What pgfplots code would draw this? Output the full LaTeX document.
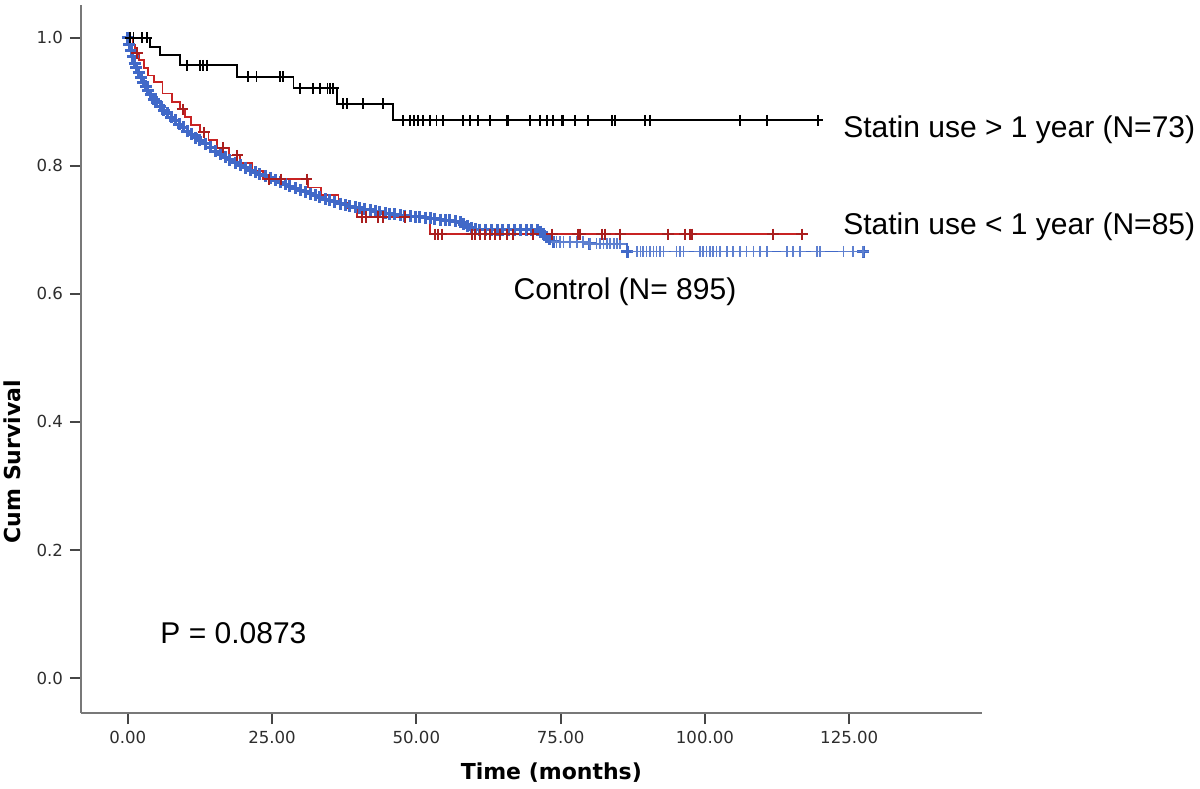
\documentclass[border=0pt]{standalone}
\usepackage{fontspec}
\setmainfont{Liberation Sans}
\newfontfamily\dejavu{DejaVu Sans}
\usepackage{pgfplots}
\pgfplotsset{compat=1.18}
\usepackage{pgfplotstable}

\definecolor{kmred}{RGB}{200,35,35}
\definecolor{kmblue}{RGB}{65,105,200}
\definecolor{spine}{RGB}{120,120,120}
\definecolor{tickc}{RGB}{70,70,70}
\definecolor{labc}{RGB}{45,45,45}

% Statin use > 1 year (N=73): step function
\pgfplotstableread{
x y
0 1.000
3.86 0.986
5.6 0.973
9.06 0.957
18.9 0.939
28.7 0.921
36.2 0.897
46.0 0.871
119.6 0.871
}\blackline
\pgfplotstableread{
x y
0.4 1.0
1.0 1.0
2.5 1.0
3.3 1.0
10.2 0.957
12.5 0.957
13.0 0.957
13.7 0.957
20.8 0.939
22.3 0.939
26.4 0.939
26.9 0.939
29.9 0.921
32.1 0.921
33.3 0.921
34.6 0.921
35.0 0.921
35.6 0.921
37.3 0.897
38.0 0.897
40.8 0.897
44.2 0.897
47.7 0.871
48.9 0.871
49.6 0.871
50.3 0.871
51.2 0.871
52.4 0.871
53.5 0.871
54.6 0.871
58.1 0.871
59.3 0.871
60.7 0.871
62.8 0.871
65.7 0.871
65.9 0.871
69.7 0.871
71.4 0.871
72.6 0.871
73.7 0.871
75.2 0.871
75.4 0.871
77.5 0.871
79.7 0.871
83.9 0.871
84.4 0.871
89.6 0.871
90.5 0.871
106.1 0.871
110.7 0.871
119.6 0.871
}\blackcens

% Statin use < 1 year (N=85)
\pgfplotstableread{
x y
0 1.000
0.8 0.988
1.3 0.976
2.0 0.965
2.8 0.953
3.5 0.941
4.5 0.931
6.0 0.913
7.7 0.900
9.0 0.888
9.9 0.876
11.0 0.864
12.5 0.852
14.0 0.840
15.5 0.828
17.5 0.816
19.5 0.804
21.5 0.792
23.4 0.779
31.2 0.766
33.5 0.754
36.5 0.742
38.0 0.733
39.7 0.720
52.4 0.693
116.8 0.693
}\redline
\pgfplotstableread{
x y
1.6 0.976
9.5 0.888
13.2 0.852
16.5 0.828
19.0 0.816
24.5 0.779
26.5 0.779
31.0 0.779
40.5 0.720
41.3 0.720
43.3 0.720
44.2 0.720
48.0 0.720
53.2 0.693
53.8 0.693
54.4 0.693
59.6 0.693
60.2 0.693
61.0 0.693
61.9 0.693
62.8 0.693
63.6 0.693
64.5 0.693
65.7 0.693
66.8 0.693
70.2 0.693
73.5 0.693
78.0 0.693
78.4 0.693
82.1 0.693
82.7 0.693
85.3 0.693
93.6 0.693
96.5 0.693
97.4 0.693
97.7 0.693
111.8 0.693
116.8 0.693
}\redcens

% Control (N=895)
\pgfplotstableread{
x y
0 1.000
0.3 0.990
0.6 0.980
0.9 0.970
1.2 0.960
1.5 0.953
1.9 0.945
2.3 0.937
2.7 0.930
3.1 0.924
3.5 0.918
4.0 0.911
4.5 0.904
5.0 0.899
5.6 0.893
6.2 0.887
6.8 0.882
7.5 0.876
8.2 0.871
8.9 0.865
9.6 0.860
10.3 0.854
11.1 0.849
11.8 0.844
12.5 0.840
13.4 0.834
14.3 0.829
15.2 0.823
16.0 0.818
16.9 0.813
17.7 0.809
18.6 0.805
19.5 0.801
20.4 0.797
21.2 0.793
22.1 0.790
22.9 0.787
23.8 0.784
24.7 0.781
25.6 0.777
26.4 0.774
27.3 0.771
28.1 0.768
29.0 0.765
29.9 0.762
30.8 0.759
31.6 0.756
32.5 0.754
33.3 0.751
34.2 0.748
35.0 0.746
35.9 0.744
36.8 0.741
37.7 0.739
38.5 0.737
39.4 0.735
40.2 0.734
41.1 0.732
42.0 0.731
42.9 0.729
43.7 0.728
44.6 0.726
45.4 0.725
46.3 0.724
47.2 0.723
48.0 0.722
48.9 0.721
49.8 0.720
50.6 0.720
51.5 0.719
52.4 0.718
53.2 0.717
54.1 0.716
55.0 0.715
55.8 0.715
56.7 0.713
57.6 0.712
58.2 0.709
58.8 0.706
59.5 0.703
60.2 0.701
61.0 0.700
62.0 0.700
63.0 0.700
64.0 0.700
65.0 0.700
66.0 0.700
67.0 0.700
68.0 0.700
69.0 0.700
70.0 0.700
71.0 0.700
71.5 0.697
72.0 0.693
72.5 0.689
73.0 0.685
73.7 0.681
80.0 0.678
86.5 0.666
127.4 0.666
}\blueline
\pgfplotstableread{
x y
74.3 0.681
74.9 0.681
75.5 0.681
76.6 0.681
77.8 0.681
78.9 0.681
80.1 0.678
81.2 0.678
81.8 0.678
82.4 0.678
83.0 0.678
83.6 0.678
84.2 0.678
84.8 0.678
85.3 0.678
88.2 0.666
88.8 0.666
89.3 0.666
89.9 0.666
90.5 0.666
91.1 0.666
91.6 0.666
92.2 0.666
92.8 0.666
95.1 0.666
95.7 0.666
96.3 0.666
99.1 0.666
99.7 0.666
100.3 0.666
100.9 0.666
101.4 0.666
102.0 0.666
102.6 0.666
103.8 0.666
104.9 0.666
106.1 0.666
107.2 0.666
108.4 0.666
109.5 0.666
110.7 0.666
114.2 0.666
115.3 0.666
116.5 0.666
119.4 0.666
119.9 0.666
124.0 0.666
125.7 0.666
127.4 0.666
}\bluecens

\begin{document}
\begin{tikzpicture}
\begin{axis}[
  scale only axis, width=450.5pt, height=354pt,
  xmin=-8.1, xmax=148, ymin=-0.0546, ymax=1.051,
  axis x line*=bottom, axis y line*=left,
  axis line style={draw=spine, line width=0.9pt, -},
  xtick={0,25,50,75,100,125},
  xticklabels={0.00,25.00,50.00,75.00,100.00,125.00},
  ytick={0,0.2,0.4,0.6,0.8,1.0},
  yticklabels={0.0,0.2,0.4,0.6,0.8,1.0},
  tick align=outside, major tick length=5.5pt,
  tick style={draw=tickc, line width=0.9pt},
  ticklabel style={font=\dejavu\fontsize{8.3}{9}\selectfont, text=labc},
  clip=false,
]
\addplot[const plot, kmblue, line width=0.9pt, mark=+, mark size=3pt, mark options={line width=1.5pt}] table[x=x,y=y] {\blueline};
\addplot[only marks, kmblue!85!white, mark=+, mark size=2.8pt, mark options={line width=0.8pt}] table[x=x,y=y] {\bluecens};
\addplot[const plot, kmred, line width=0.85pt] table[x=x,y=y] {\redline};
\addplot[only marks, kmred!85!black, mark=+, mark size=2.8pt, mark options={line width=1.0pt}] table[x=x,y=y] {\redcens};
\addplot[const plot, black, line width=0.9pt] table[x=x,y=y] {\blackline};
\addplot[only marks, black, mark=+, mark size=2.7pt, mark options={line width=0.9pt}] table[x=x,y=y] {\blackcens};

\node[anchor=west, inner sep=0pt, font=\fontsize{15}{18}\selectfont] at (axis cs:123.9,0.8556) {Statin use > 1 year (N=73)};
\node[anchor=west, inner sep=0pt, font=\fontsize{15}{18}\selectfont] at (axis cs:123.9,0.704) {Statin use < 1 year (N=85)};
\node[anchor=west, inner sep=0pt, font=\fontsize{15}{18}\selectfont] at (axis cs:66.8,0.603) {Control (N= 895)};
\node[anchor=west, inner sep=0pt, font=\fontsize{15}{18}\selectfont] at (axis cs:5.6,0.070) {P = 0.0873};

\coordinate (bbsw) at (rel axis cs:0,0);
\coordinate (ylab) at (rel axis cs:0,0.355);
\coordinate (xlab) at (rel axis cs:0.522,0);
\end{axis}
\node[rotate=90, font=\dejavu\bfseries\fontsize{11}{13}\selectfont, inner sep=0pt] at ([xshift=-34.5pt]ylab) {Cum Survival};
\node[font=\dejavu\bfseries\fontsize{11}{13}\selectfont, inner sep=0pt] at ([yshift=-30pt]xlab) {Time (months)};
\pgfresetboundingbox
\path[use as bounding box] ([shift={(-40.5pt,-37.5pt)}]bbsw) rectangle ([shift={(559.5pt,356.5pt)}]bbsw);
\end{tikzpicture}
\end{document}
